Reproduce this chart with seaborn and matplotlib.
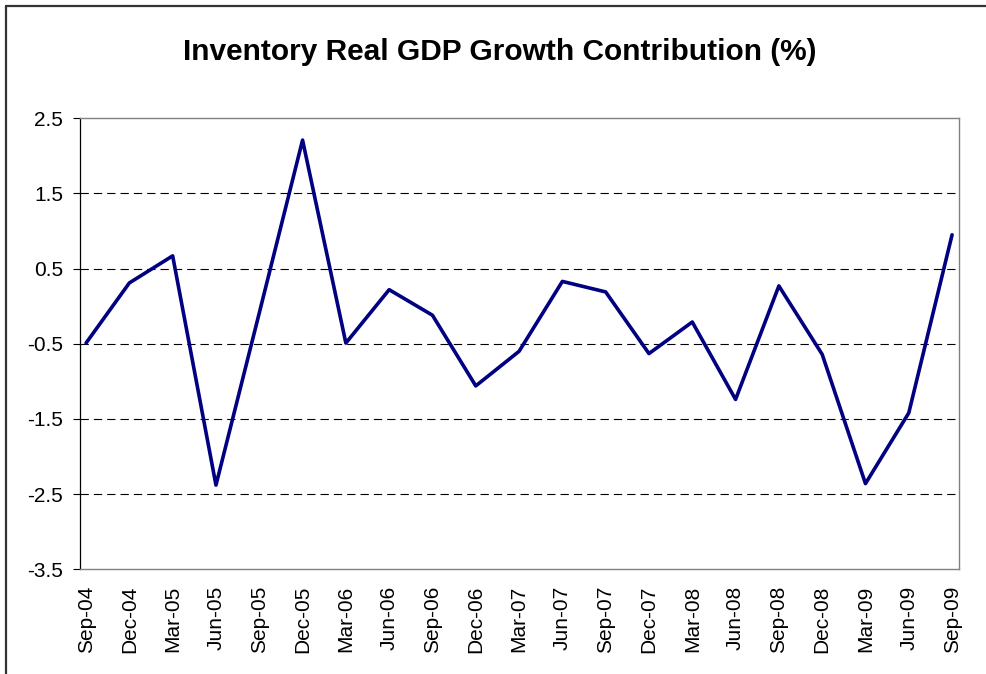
import numpy as np
import pandas as pd
import matplotlib.pyplot as plt
import seaborn as sns
from matplotlib.lines import Line2D

# Дані
quarters = ['Sep-04', 'Dec-04', 'Mar-05', 'Jun-05', 'Sep-05', 'Dec-05', 'Mar-06',
            'Jun-06', 'Sep-06', 'Dec-06', 'Mar-07', 'Jun-07', 'Sep-07', 'Dec-07',
            'Mar-08', 'Jun-08', 'Sep-08', 'Dec-08', 'Mar-09', 'Jun-09', 'Sep-09']
contribution = [-0.49, 0.31, 0.67, -2.38, -0.09, 2.21, -0.49,
                0.22, -0.12, -1.06, -0.60, 0.33, 0.19, -0.63,
                -0.21, -1.24, 0.27, -0.64, -2.36, -1.42, 0.95]
y_ticks = [-3.5, -2.5, -1.5, -0.5, 0.5, 1.5, 2.5]

df = pd.DataFrame({'pos': np.arange(len(quarters)), 'value': contribution})

sns.set_style('white')
plt.rcParams['font.family'] = ['Liberation Sans', 'DejaVu Sans']
plt.rcParams['text.color'] = 'black'
plt.rcParams['xtick.color'] = 'black'
plt.rcParams['ytick.color'] = 'black'

fig = plt.figure(figsize=(9.86, 6.74), dpi=100)
ax = fig.add_axes([80 / 986, 1 - 569.3 / 674, 879 / 986, 451 / 674])

sns.lineplot(data=df, x='pos', y='value', ax=ax, color='#000080', linewidth=2.6)

ax.set_xlim(-0.14, 20.16)
ax.set_ylim(-3.5, 2.5)
ax.set_yticks(y_ticks)
ax.set_yticklabels([f'{v:.1f}' for v in y_ticks])
ax.set_xticks(df['pos'])
ax.set_xticklabels(quarters, rotation=90)
ax.set_xlabel('')
ax.set_ylabel('')

for v in y_ticks[1:-1]:
    ax.axhline(v, color='black', linewidth=0.8, linestyle=(0, (7.5, 4.5)), zorder=0)

ax.tick_params(axis='y', length=5, width=0.8, color='black', pad=7, labelsize=15,
               labelcolor='black', left=True)
ax.tick_params(axis='x', length=0, pad=12, labelsize=15, labelcolor='black')

ax.spines['left'].set_color('black')
ax.spines['left'].set_linewidth(0.9)
for s in ['top', 'right', 'bottom']:
    ax.spines[s].set_color('#808080')
    ax.spines[s].set_linewidth(1.0)

fig.text(500 / 986, 1 - 52 / 674, 'Inventory Real GDP Growth Contribution (%)',
         ha='center', va='center', fontsize=21.5, fontweight='bold', color='black')

# рамка навколо діаграми (видно лише верх і лівий край)
fig.add_artist(Line2D([6 / 986, 6 / 986], [0, 1 - 6 / 674], transform=fig.transFigure,
                      color='#333333', linewidth=1.6))
fig.add_artist(Line2D([6 / 986, 1], [1 - 6 / 674, 1 - 6 / 674], transform=fig.transFigure,
                      color='#333333', linewidth=1.6))

fig.savefig('out.png', dpi=100)
